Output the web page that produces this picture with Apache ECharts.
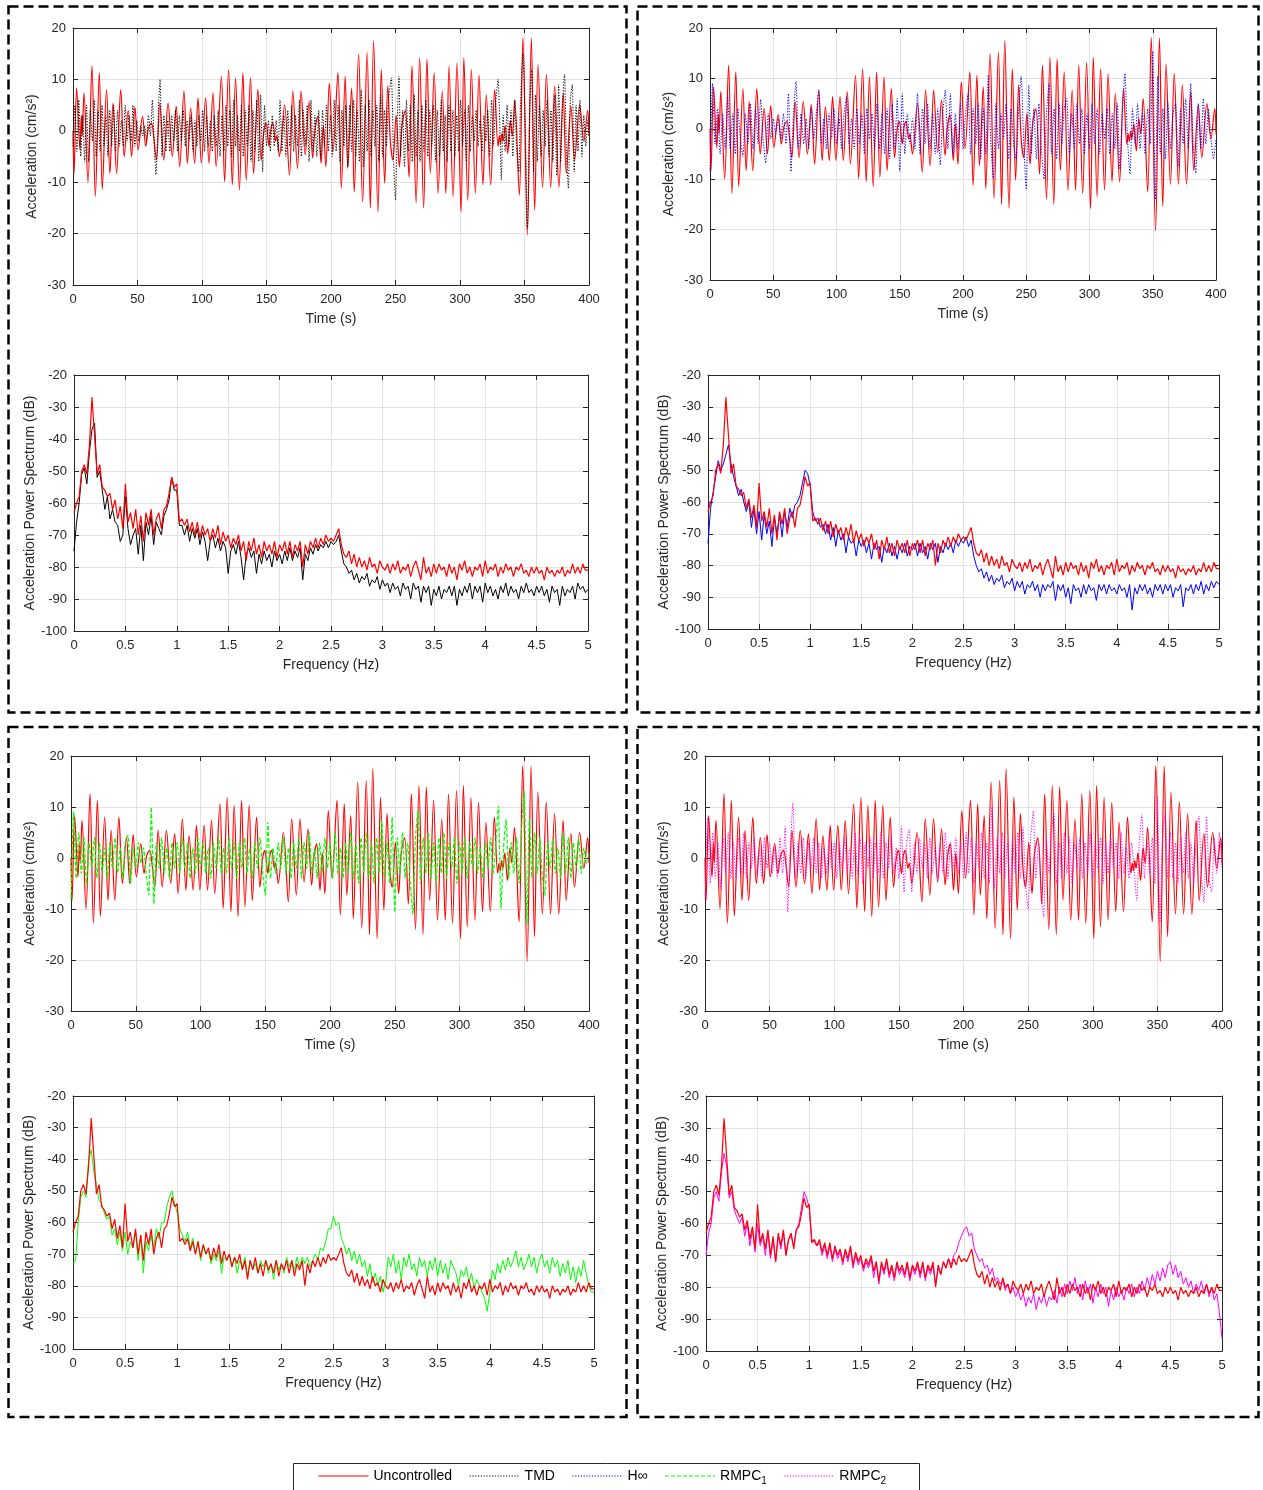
<!DOCTYPE html>
<html>
<head>
<meta charset="utf-8">
<script src="https://cdn.jsdelivr.net/npm/echarts@6/dist/echarts.min.js"></script>
<style>
html,body{margin:0;padding:0;background:#fff;}
#chart{width:1263px;height:1490px;}
</style>
</head>
<body>
<div id="chart"></div>
<script>
// ---------------- DATA ----------------
// Uncontrolled acceleration (time s, cm/s^2) - read extrema
const uncontrolledAcc = [
[0,0],[0.8,-8.3],[2.8,8.3],[5.4,-3.7],[6.5,3],[7.2,-1],[8.5,7.4],[11.6,-10],[14.7,12.6],[17.3,-12.8],
[20.4,11.3],[22.7,-11.4],[26,8],[28.6,-8.3],[31,5.4],[33.8,-8.3],[37,8],[39.7,-5],[42.8,4],[45.4,-5],
[48,4.6],[50.5,-3.7],[53.9,2.8],[56.4,-3],[58.5,0.5],[60.8,1.5],[62.5,-1],[64.7,-5.7],[67.3,5.4],[70.4,-5.7],
[73.7,5.4],[77,-5],[80,4.8],[82.7,-7],[86,7.7],[88.7,-6.3],[91.2,4.4],[94.3,-6.3],[96.9,6.4],[99.5,-6.3],
[102.8,6.4],[105.4,-6.3],[108.5,7.4],[111,-7],[115,10.6],[117.5,-9.9],[120.6,11.9],[123.5,-10.5],[126,10.3],[129,-11.5],
[131.7,11.3],[134.3,-9.6],[137.6,10.3],[140,-8.3],[143.3,8],[145.9,-5.7],[148,0],[149.7,1.5],[151,-1],[152,-3],
[153.5,0.5],[155,1.5],[157,-2],[158,-1],[160,-5],[164,5],[167.8,-8.6],[170.4,7.7],[174,-7.3],[176.8,7.7],
[180,-4.7],[183,5.7],[185.8,-5.3],[187.5,0],[189.7,2.8],[192.3,-6.3],[194,1],[196,-7],[198.7,9.3],[201.6,-4],
[205.4,11.3],[208,-11.2],[211,10.6],[213,-7.3],[216,8.3],[218,-11.9],[221.4,14.9],[224.5,-13.8],[228,15.2],[230.5,-15],
[233,17.5],[236.4,-15.8],[239,11.9],[241.6,-10.2],[244,8.7],[246,-2],[248,-5.7],[250.5,3],[253,-7],[255,1],
[257.6,4],[260.5,-9],[262.8,12.6],[266,-14],[268.7,14.2],[271.8,-15],[274.4,13.9],[277,-8.3],[280,11.3],[283,-12.2],
[286.3,7.7],[289,-12.2],[291.5,12.6],[294.6,-12.8],[297.7,13.2],[300.8,-15.8],[303,14.2],[306,-13.5],[308.8,11.9],[311.9,-12.2],
[314.7,10.9],[317.8,-10.5],[320.4,7],[323.8,-10.5],[326.9,8],[329.5,-3],[330.5,-1],[331.5,-2.5],[332.5,-0.5],[333.5,-2],
[335,1],[337,-4.4],[339,2],[340.5,-1],[342.4,6],[346,-12.5],[348.8,18.1],[352.2,-20.3],[355.3,18],[357.9,-15.4],
[360.5,12.9],[364,-11],[367,11],[370.3,-11],[373.4,8.7],[376.7,-11],[380,7.4],[382.4,-8.3],[386,4.8],[388.8,-5.7],
[392.8,5],[396,-2],[399,4],[400,-1]
];

// TMD acceleration (time s, cm/s^2)
const tmdAcc = [
[0,-3],[1.5,5],[3,-4],[4.5,6],[6,-5],[7.5,3],[9,-6],[10.5,5],[12,-6],[13.5,4],[15,-2],[16.5,6],[18,-5],[19.5,4],
[21,-4],[22.5,5],[24,-3],[25.5,3],[27,-5],[28.5,4],[30,-3],[31.5,5],[33,-4],[34.5,4],[36,-3],[37.5,2],[39,-3],[40.5,5],
[42,-2],[43.5,3],[45,-2],[46.5,5],[48,-3],[49.5,2],[51,-2],[52.5,1],[54,-1],[55.5,1],[57,-2],[58.5,3],[60,-1],[61.5,6],
[63,-3],[64.3,-8.5],[65.5,-2],[66.5,6],[67.5,10],[69,-5],[70.5,3],[72,-4],[73.5,2],[75,-4],[76.5,3],[78,-2],[79.5,4],
[81,-4],[82.5,3],[84,-2],[85.5,4],[87,-3],[88.5,2],[90,-2],[91.5,3],[93,-4],[94.5,2],[96,-3],[97.5,3],[99,-2],[100.5,4],
[102,-4],[103.5,3],[105,-3],[106.5,2],[108,-4],[109.5,3],[111,-3],[112.5,4],[114,-5],[115.5,3],[117,-4],[118.5,5],[120,-3],
[121.5,4],[123,-5],[124.5,6],[126,-3],[127.5,3],[129,-4],[130.5,5],[132,-5],[133.5,4],[135,-3],[136.5,5],[138,-6],[139.5,4],
[141,-4],[142.5,6],[144,-6],[145.5,7],[147,-8],[148.5,5],[150,-3],[151.5,2],[153,-4],[154.5,3],[156,-3],[157.5,2],[159,-4],
[160.5,6],[162,-4],[163.5,3],[165,-5],[166.5,4],[168,-3],[169.5,5],[171,-4],[172.5,3],[174,-3],[175.5,6],[177,-5],[178.5,4],
[180,-3],[181.5,5],[183,-6],[184.5,6],[186,-4],[187.5,3],[189,-5],[190.5,4],[192,-5],[193.5,4],[195,-3],[196.5,5],[198,-4],
[199.5,3],[201,-5],[202.5,6],[204,-4],[205.5,5],[207,-6],[208.5,4],[210,-3],[211.5,5],[213,-7],[214.5,5],[216,-4],[217.5,6],
[219,-5],[220.5,4],[222,-6],[223.5,8],[225,-7],[226.5,5],[228,-4],[229.5,6],[231,-5],[232.5,4],[234,-3],[235.5,5],[237,-6],
[238.5,7],[240,-5],[241.5,4],[243,-3],[244.5,6],[246.8,10.3],[248.5,-6],[250,-13.5],[251.5,3],[252.7,10.6],[254,-5],[255.5,4],
[257,-7],[258.5,6],[260,-4],[261.5,5],[263,-6],[264.5,7],[266,-5],[267.5,4],[269,-6],[270.5,5],[272,-4],[273.5,6],[275,-5],
[276.5,4],[278,-3],[279.5,5],[281,-6],[282.5,4],[284,-5],[285.5,6],[287,-4],[288.5,3],[290,-6],[291.5,5],[293,-4],[294.5,4],
[296,-5],[297.5,3],[299,-4],[300.5,6],[302,-3],[303.5,4],[305,-6],[306.5,5],[308,-4],[309.5,3],[311,-2],[312.5,4],[314,-3],
[315.5,2],[317,-4],[318.5,3],[320,-2],[321.5,4],[323,-5],[324.5,6],[326,-3],[327.5,5],[329.5,10],[331,0],[332,-9.6],[333.5,3],
[335,-4],[336.5,5],[338,-3],[339.5,4],[341,-5],[342.5,6],[344,-4],[345.5,-8],[347,6],[348.8,15],[350.5,2],[352.3,-19],[354,4],
[355.5,12],[357,-8],[358.5,7],[360,-6],[361.5,5],[363,-5],[364.5,4],[366,-3],[367.5,6],[369,-5],[370.5,4],[372,-6],[373.5,7],
[375,-8.7],[376.5,9],[378,-6],[379.5,5],[381,11],[382.5,-4],[384,-11.2],[385.5,6],[387,9],[388.5,-8],[390,5],[391.5,-4],
[393,6],[394.5,-5],[396,3],[397.5,-3],[399,2],[400,-1]
];

// H-infinity / RMPC1 / RMPC2 accelerations, sampled every 2 s from 0 to 400 s
const TIME_STEP = 2;
const hinfAcc = [
-8.5,9,-3,4,-5,3,-4,6.4,-4,3,
-5,4,-2,-5.5,3,-3,5,-4,4,-3,
5.8,-2,-6.8,3,-2,2,-1,2,-2,3,
-3,7,-8.5,3,9.4,-4,3,-3,2,-4,
4,-2,3,7.7,-3,2,-4,3,-2,4,
-3,2,-4,3,6.4,-3,2,-4,4,-3,
3,-5,4,-2,3,-4,5,-4,3,-5,
4,-6,5,-4,6,-8.5,7,-5,3,-3,
2,-4,7,-5,4,-3,5,-4,3,-5,
4,-7.2,3,7.7,-4,7,-5,3,-4,5,
-4,3,7,-5,4,-3,5,-6,4,-5,
10.7,-3,-9.8,5,-4,3,-2,5,-6,4,
-3,-6,4,10.4,-3,-12,8.7,-5,4,-6,
5,-4,-10,3,9,-5,4,-6,5,-3,
4,6,-5,3,-4,5,-3,4,-5,3,
-4,5,-3,4,-5,3,-2,4,-5,3,
-4,5,-8,3,11,-2,-9,4,-3,5,
-4,3,-5,4,-3,15.4,-14,10.4,-5,4,
-6,5,-4,3,5,-7.5,4,-3,6,-4,
9,-3,-8.8,5,-4,6,-3,4,-2,-6,
-2
];
const rmpc1Acc = [
-8,9.2,-4,5,-3,4,-5,3,-2,4,
-4,3,-3,2,-4,3,-2,4,-3,2,
-4,3,4.5,-5,2,-2,3,-1,2,-3,
-7.3,9.9,-9,3,-2,4,-3,2,-4,3,
-2,3,-3,4,-2,3,-4,2,-3,4,
-2,3,-3,2,-4,3,-2,4,-3,2,
-3,4,-2,3,-4,3,-2,4,-3,2,
-4,3,-2,4,-3,-7.3,7,-4,2,-3,
3,-2,4,-3,2,-4,3,-2,4,-4,
3,-2,5,-3,2,-4,3,-3,4,-2,
3,-4,5,-3,2,-4,3,-3,5,-4,
3,-5,4,-3,5,-4,3,-5,4,-3,
7.3,-4,3,-5,8,-10.6,4,-3,5,-4,
3,-5,-11,4,9.5,-5,4,-3,5,-4,
3,-5,4,-3,5,-4,3,-2,4,-5,
3,-3,4,-4,3,-2,4,-3,2,-4,
3,-2,4,-3,3,10.2,-10,2,7.6,-4,
3,-3,4,-5,6,13,-13,7.6,-4,5,
-3,4,-4,-7.3,3,-2,4,-3,2,-4,
5,-3,4,-4,3,-2,4,-3,2,-1,
1
];
const rmpc2Acc = [
-8,7.9,-5,5,-4,3,-6,4,-3,5,
-4,3,-4,4,-3,5,-4,3,-2,4,
-3,2,-4,4,-2,3,-3,2,-4,4,
-3,6.2,-10.6,2,10.8,-4,3,-3,4,-4,
3,-2,4,-3,3,-4,2,-3,4,-2,
3,-4,3,-2,4,-3,2,-4,5,-3,
4,-5,3,-2,4,-4,3,-3,5,-4,
3,-2,4,-3,2,-4,6.2,-6.7,3,5.6,
-6.7,3,-3,4,-2,3,-4,4,-3,2,
-4,3,-3,5,-4,3,-2,4,-3,3,
-4,5,-3,4,-5,3,-2,5,-4,3,
-5,10,-6,4,-3,5,-4,3,-8.7,4,
-3,5,-4,6,-5,-10,4,9.2,-4,3,
-6,-11.6,4,-3,5,8.8,-5,3,-4,5,
-3,4,-5,3,-2,4,-4,3,-3,5,
-4,3,-2,4,-5,3,-3,4,-2,3,
-4,5,-3,2,-4,3,-2,-8.4,3,8.5,
-4,3,-3,4,-5,12,-12.6,4,8.8,-4,
5,-4,3,-5,4,-3,5,-4,3,-5,
4,8.2,-3,-8.7,8.2,-4,-6.7,4,-3,5,
-2
];

// Power spectra (dB), sampled every 0.025 Hz from 0 to 5 Hz
const FREQ_STEP = 0.025;
const uncontrolledPsd = [
-63,-60,-58,-50,-48,-51,-42,-27,
-39,-51,-48,-55,-56,-58,-57,-62,
-59,-65,-61,-68,-54,-66,-63,-68,
-62,-70,-64,-72,-63,-67,-62,-70,
-65,-63,-68,-62,-61,-57,-52,-55,
-54,-66,-65,-67,-65,-69,-66,-70,
-66,-71,-67,-70,-68,-72,-68,-71,
-67,-73,-69,-72,-70,-74,-71,-73,
-70,-75,-72,-78,-72,-75,-71,-76,
-73,-77,-72,-75,-73,-76,-72,-77,
-73,-75,-72,-76,-72,-77,-73,-75,
-72,-80,-73,-76,-72,-74,-71,-74,
-71,-73,-70,-72,-71,-72,-70,-68,
-73,-76,-77,-75,-79,-76,-80,-77,
-80,-78,-81,-77,-80,-79,-82,-78,
-80,-81,-79,-82,-79,-81,-78,-82,
-80,-81,-79,-83,-80,-78,-81,-84,
-77,-82,-80,-83,-79,-82,-79,-81,
-80,-83,-79,-82,-80,-84,-79,-81,
-78,-82,-80,-83,-80,-81,-79,-83,
-78,-82,-80,-81,-79,-83,-80,-82,
-79,-81,-80,-83,-80,-81,-79,-82,
-81,-83,-80,-82,-80,-82,-81,-84,
-80,-82,-81,-83,-81,-82,-80,-83,
-81,-82,-79,-82,-80,-82,-79,-81,
-81
];
const tmdPsd = [
-75,-66,-60,-51,-49,-54,-44,-37,
-35,-52,-50,-56,-62,-58,-65,-62,
-66,-67,-72,-70,-58,-68,-73,-70,
-68,-76,-67,-78,-66,-70,-64,-73,
-66,-68,-70,-64,-62,-59,-52,-56,
-56,-67,-67,-70,-67,-72,-68,-71,
-68,-73,-69,-72,-78,-72,-70,-74,
-71,-75,-72,-74,-82,-75,-73,-76,
-72,-77,-84,-76,-74,-77,-75,-82,
-76,-79,-75,-78,-76,-80,-75,-78,
-76,-79,-75,-78,-74,-78,-75,-77,
-74,-84,-76,-78,-74,-76,-73,-75,
-73,-74,-72,-74,-72,-73,-72,-70,
-75,-79,-80,-82,-81,-84,-82,-85,
-83,-84,-82,-86,-84,-85,-83,-87,
-84,-86,-85,-88,-85,-87,-86,-89,
-85,-87,-86,-90,-85,-87,-86,-91,
-86,-88,-86,-92,-87,-89,-86,-90,
-87,-88,-86,-89,-86,-92,-87,-89,
-86,-88,-85,-90,-86,-88,-86,-91,
-85,-88,-86,-89,-87,-90,-86,-88,
-85,-89,-86,-88,-87,-90,-86,-88,
-85,-88,-87,-89,-86,-88,-86,-89,
-87,-91,-86,-88,-87,-92,-86,-89,
-87,-88,-86,-90,-85,-87,-86,-88,
-87
];
const hinfPsd = [
-73,-62,-57,-52,-47,-50,-48,-45,
-42,-48,-52,-55,-58,-56,-60,-63,
-60,-68,-62,-70,-63,-72,-64,-70,
-66,-74,-65,-70,-64,-71,-63,-68,
-62,-65,-61,-60,-58,-54,-50,-51,
-55,-63,-66,-65,-68,-67,-70,-67,
-72,-68,-74,-69,-72,-70,-76,-71,
-73,-72,-77,-72,-74,-72,-76,-73,
-78,-73,-75,-74,-79,-74,-76,-73,
-77,-74,-78,-74,-76,-73,-77,-74,
-75,-73,-77,-73,-76,-74,-78,-73,
-75,-73,-79,-74,-76,-73,-75,-73,
-76,-72,-74,-72,-73,-71,-74,-72,
-77,-80,-82,-81,-84,-82,-85,-83,
-86,-84,-85,-83,-87,-85,-86,-84,
-88,-85,-87,-85,-89,-86,-87,-85,
-88,-86,-90,-86,-88,-86,-87,-85,
-91,-86,-88,-86,-90,-87,-92,-86,
-88,-87,-90,-86,-89,-86,-88,-87,
-91,-86,-88,-86,-89,-86,-88,-87,
-89,-86,-88,-87,-90,-86,-94,-87,
-89,-86,-88,-86,-89,-87,-90,-86,
-88,-86,-89,-86,-88,-86,-90,-87,
-88,-86,-93,-87,-88,-86,-89,-86,
-88,-85,-89,-86,-88,-85,-87,-85,
-86
];
const rmpc1Psd = [
-73,-72,-60,-52,-50,-52,-40,-37,
-44,-48,-53,-54,-57,-59,-58,-64,
-62,-67,-63,-69,-63,-70,-66,-68,
-63,-72,-64,-76,-66,-69,-64,-68,
-62,-65,-60,-60,-55,-52,-50,-54,
-57,-62,-64,-66,-63,-68,-65,-70,
-66,-72,-67,-70,-69,-73,-70,-72,
-69,-76,-71,-72,-70,-74,-71,-76,
-72,-74,-71,-77,-72,-75,-73,-76,
-72,-74,-72,-76,-73,-78,-72,-75,
-73,-76,-71,-74,-72,-75,-71,-74,
-71,-73,-71,-74,-72,-70,-72,-68,
-69,-66,-62,-62,-58,-61,-60,-65,
-67,-70,-68,-72,-69,-73,-70,-74,
-72,-77,-73,-79,-76,-80,-77,-82,
-79,-71,-74,-70,-76,-72,-78,-71,
-74,-70,-75,-73,-77,-71,-74,-72,
-77,-72,-75,-71,-77,-72,-76,-73,
-78,-72,-74,-76,-80,-75,-77,-74,
-79,-76,-81,-78,-80,-82,-84,-88,
-82,-75,-78,-73,-76,-72,-75,-71,
-74,-72,-69,-74,-71,-75,-73,-70,
-74,-71,-76,-72,-70,-74,-72,-76,
-71,-74,-72,-77,-73,-76,-72,-78,
-74,-79,-74,-77,-72,-76,-80,-82,
-82
];
const rmpc2Psd = [
-70,-63,-60,-52,-50,-53,-44,-38,
-42,-52,-50,-56,-58,-60,-58,-64,
-60,-67,-62,-69,-60,-67,-64,-70,
-63,-71,-65,-72,-64,-68,-63,-70,
-65,-64,-67,-62,-60,-55,-50,-52,
-55,-65,-66,-67,-66,-70,-67,-71,
-67,-72,-68,-71,-69,-73,-69,-72,
-68,-74,-70,-73,-71,-75,-72,-74,
-71,-77,-72,-79,-73,-76,-72,-77,
-74,-78,-73,-76,-74,-77,-73,-78,
-74,-76,-73,-77,-73,-78,-74,-76,
-73,-79,-74,-76,-72,-74,-71,-73,
-70,-69,-66,-64,-62,-61,-64,-63,
-68,-70,-72,-71,-74,-73,-76,-74,
-78,-77,-79,-78,-81,-79,-82,-80,
-83,-81,-84,-82,-86,-83,-85,-82,
-87,-83,-85,-82,-86,-83,-84,-81,
-85,-80,-83,-79,-82,-78,-81,-77,
-82,-79,-84,-78,-82,-79,-85,-80,
-83,-79,-82,-80,-86,-81,-84,-80,
-83,-81,-84,-80,-82,-79,-83,-80,
-82,-78,-81,-77,-80,-76,-79,-75,
-78,-74,-77,-73,-72,-76,-73,-77,
-75,-79,-77,-80,-78,-82,-79,-81,
-78,-82,-79,-83,-80,-84,-82,-88,
-96
];

const legendNames = ['Uncontrolled', 'TMD', 'H\u221E', 'RMPC1', 'RMPC2'];

// ---------------- CHART ----------------
const FONT = '"Liberation Sans", Arial, Helvetica, sans-serif';
const AX = '#262626';
const GRIDC = '#e2e2e2';

const panels = [
  {kind:'t', left:73, top:28, width:516, height:257},
  {kind:'f', left:74, top:375, width:514, height:256},
  {kind:'t', left:710, top:28, width:506, height:252},
  {kind:'f', left:708, top:375, width:511, height:254},
  {kind:'t', left:71, top:756, width:518, height:255},
  {kind:'f', left:73, top:1096, width:521, height:253},
  {kind:'t', left:705, top:756, width:517, height:255},
  {kind:'f', left:706, top:1096, width:516, height:255}
];

const grids = [], xAxes = [], yAxes = [];
function ranges(isT) {
  return {
    x: isT ? {min:0, max:400, interval:50} : {min:0, max:5, interval:0.5},
    y: isT ? {min:-30, max:20, interval:10} : {min:-100, max:-20, interval:10}
  };
}
panels.forEach((p, i) => {
  grids.push({left:p.left, top:p.top, width:p.width, height:p.height, containLabel:false});
  const isT = p.kind === 't';
  const r = ranges(isT);
  const tick = {show:true, inside:true, length:5, lineStyle:{color:AX, width:1}};
  const line = {show:true, onZero:false, lineStyle:{color:AX, width:1}};
  xAxes.push(Object.assign({
    gridIndex:i, type:'value', position:'bottom',
    axisLine:line, axisTick:tick,
    axisLabel:{color:AX, fontSize:13, fontFamily:FONT, margin:8},
    splitLine:{show:true, lineStyle:{color:GRIDC, width:1}},
    name: isT ? 'Time (s)' : 'Frequency (Hz)',
    nameLocation:'middle', nameGap:27,
    nameTextStyle:{color:AX, fontSize:14, fontFamily:FONT}
  }, r.x));
  yAxes.push(Object.assign({
    gridIndex:i, type:'value', position:'left',
    axisLine:line, axisTick:tick,
    axisLabel:{color:AX, fontSize:13, fontFamily:FONT, margin:7},
    splitLine:{show:true, lineStyle:{color:GRIDC, width:1}},
    name: isT ? 'Acceleration (cm/s\u00B2)' : 'Acceleration Power Spectrum (dB)',
    nameLocation:'middle', nameGap: isT ? 34 : 37,
    nameTextStyle:{color:AX, fontSize:14, fontFamily:FONT}
  }, r.y));
});
// mirrored axes (top / right) with ticks only
panels.forEach((p, i) => {
  const r = ranges(p.kind === 't');
  const tick = {show:true, inside:true, length:5, lineStyle:{color:AX, width:1}};
  const line = {show:true, onZero:false, lineStyle:{color:AX, width:1}};
  xAxes.push(Object.assign({gridIndex:i, type:'value', position:'top', axisLine:line, axisTick:tick,
    axisLabel:{show:false}, splitLine:{show:false}}, r.x));
  yAxes.push(Object.assign({gridIndex:i, type:'value', position:'right', axisLine:line, axisTick:tick,
    axisLabel:{show:false}, splitLine:{show:false}}, r.y));
});

function timeSeries(arr) { return arr.map((v, k) => [k * TIME_STEP, v]); }
function psdSeries(arr) { return arr.map((v, k) => [+(k * FREQ_STEP).toFixed(3), v]); }

function ln(name, idx, data, color, type, width, z, smooth) {
  return {
    name:name, type:'line', xAxisIndex:idx, yAxisIndex:idx, data:data,
    symbol:'none', showSymbol:false, animation:false, silent:true, z:z || 2,
    smooth: smooth || false,
    lineStyle:{color:color, width:width, type:type},
    itemStyle:{color:color}
  };
}

const RED = '#ff0000', BLK = '#000000', BLU = '#0000ff', GRN = '#00ff00', MAG = '#ff00ff';
const series = [
  // TL
  ln('Uncontrolled', 0, uncontrolledAcc, RED, 'solid', 1.2, 2, 0.35),
  ln('TMD', 0, tmdAcc, BLK, [1.2, 1.6], 1, 3, 0.2),
  ln('TMD', 1, psdSeries(tmdPsd), BLK, 'solid', 1, 2),
  ln('Uncontrolled', 1, psdSeries(uncontrolledPsd), RED, 'solid', 1.2, 3),
  // TR
  ln('Uncontrolled', 2, uncontrolledAcc, RED, 'solid', 1.2, 2, 0.35),
  ln('H\u221E', 2, timeSeries(hinfAcc), BLU, [1.2, 1.6], 1, 3, 0.2),
  ln('H\u221E', 3, psdSeries(hinfPsd), BLU, 'solid', 1, 2),
  ln('Uncontrolled', 3, psdSeries(uncontrolledPsd), RED, 'solid', 1.2, 3),
  // BL
  ln('Uncontrolled', 4, uncontrolledAcc, RED, 'solid', 1.2, 2, 0.35),
  ln('RMPC1', 4, timeSeries(rmpc1Acc), GRN, [4, 2], 1.2, 3, 0.2),
  ln('RMPC1', 5, psdSeries(rmpc1Psd), GRN, 'solid', 1, 2),
  ln('Uncontrolled', 5, psdSeries(uncontrolledPsd), RED, 'solid', 1.2, 3),
  // BR
  ln('Uncontrolled', 6, uncontrolledAcc, RED, 'solid', 1.2, 2, 0.35),
  ln('RMPC2', 6, timeSeries(rmpc2Acc), MAG, [1.2, 1.6], 1, 3, 0.2),
  ln('RMPC2', 7, psdSeries(rmpc2Psd), MAG, 'solid', 1, 2),
  ln('Uncontrolled', 7, psdSeries(uncontrolledPsd), RED, 'solid', 1.2, 3)
];

const dash = {fill:'rgba(0,0,0,0)', stroke:'#000', lineWidth:2.5, lineDash:[10,5]};
const option = {
  backgroundColor:'#ffffff',
  animation:false,
  textStyle:{fontFamily:FONT},
  grid:grids, xAxis:xAxes, yAxis:yAxes, series:series,
  legend:{
    data:legendNames, left:318, top:1469, itemWidth:50, itemHeight:12, itemGap:17,
    selectedMode:false, padding:0,
    itemStyle:{opacity:0, borderWidth:0},
    lineStyle:{width:1},
    textStyle:{color:'#000', fontSize:14, fontFamily:FONT,
      rich:{sub:{fontSize:10, fontFamily:FONT, color:'#000', padding:[10,0,0,0]}}},
    formatter:function(n){
      if (n === 'RMPC1') return 'RMPC{sub|1}';
      if (n === 'RMPC2') return 'RMPC{sub|2}';
      return n;
    }
  },
  graphic:[
    {type:'rect', silent:true, shape:{x:8.5, y:6.5, width:618, height:706}, style:dash},
    {type:'rect', silent:true, shape:{x:637.5, y:6.5, width:621, height:706}, style:dash},
    {type:'rect', silent:true, shape:{x:8.5, y:727, width:618, height:690}, style:dash},
    {type:'rect', silent:true, shape:{x:637.5, y:727, width:621, height:690}, style:dash},
    {type:'rect', silent:true, shape:{x:293.5, y:1463.5, width:626, height:40},
      style:{fill:'rgba(0,0,0,0)', stroke:'#262626', lineWidth:1}}
  ]
};

const chart = echarts.init(document.getElementById('chart'), null, {renderer:'canvas', width:1263, height:1490});
chart.setOption(option);
</script>
</body>
</html>
